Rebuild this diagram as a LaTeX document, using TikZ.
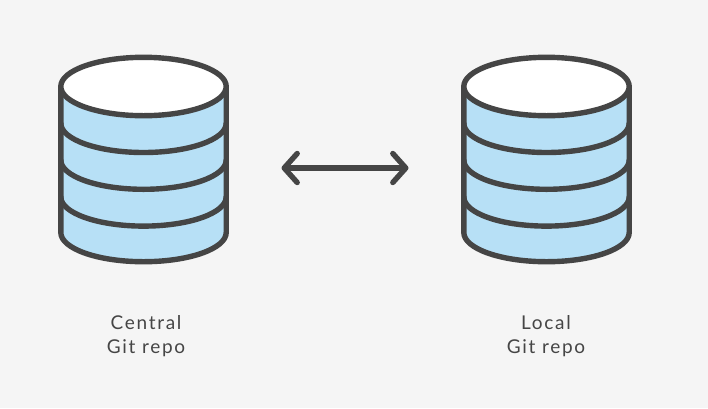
\documentclass[tikz,border=0pt]{standalone}
\usepackage{fontspec}
\setmainfont{Lato}
\usetikzlibrary{arrows.meta}
\definecolor{bgc}{HTML}{F5F5F5}
\definecolor{ink}{HTML}{454545}
\definecolor{band}{HTML}{B7E0F6}
\newfontface\labelfont[LetterSpace=9]{Lato}
\tikzset{
  line/.style={draw=ink,line width=5.4pt,line join=round,line cap=round},
  lab/.style={text=ink,align=center,inner sep=0pt,font=\labelfont\fontsize{19}{23.5}\selectfont},
  biarrow/.style={line,{Straight Barb[length=13pt,width=29pt,round]}-{Straight Barb[length=13pt,width=29pt,round]}},
  pics/repo/.style={code={
    \def\rx{82.7}\def\ry{29.2}
    \fill[band] (-\rx,0) -- (-\rx,146) arc[start angle=180,end angle=0,x radius=\rx,y radius=\ry] -- (\rx,0) -- cycle;
    \foreach \yy in {36.8,73.6,110.4}
      \draw[line] (-\rx,\yy) arc[start angle=180,end angle=0,x radius=\rx,y radius=\ry];
    \draw[line] (-\rx,0) -- (-\rx,146) arc[start angle=180,end angle=0,x radius=\rx,y radius=\ry] -- (\rx,0);
    \draw[line,fill=white] (0,0) ellipse[x radius=\rx,y radius=\ry];
  }}
}
\begin{document}
\begin{tikzpicture}[x=1pt,y=-1pt]
\useasboundingbox[fill=bgc] (0,0) rectangle (708,408);
\pic at (143.5,86.5) {repo};
\pic at (546.5,86.5) {repo};
\coordinate (left) at (281.5,168);
\coordinate (right) at (408.5,168);
\draw[biarrow] (left) -- (right);
\node[lab] (central) at (146,336) {Central\\Git repo};
\node[lab] (local) at (546,336) {Local\\Git repo};
\end{tikzpicture}
\end{document}
